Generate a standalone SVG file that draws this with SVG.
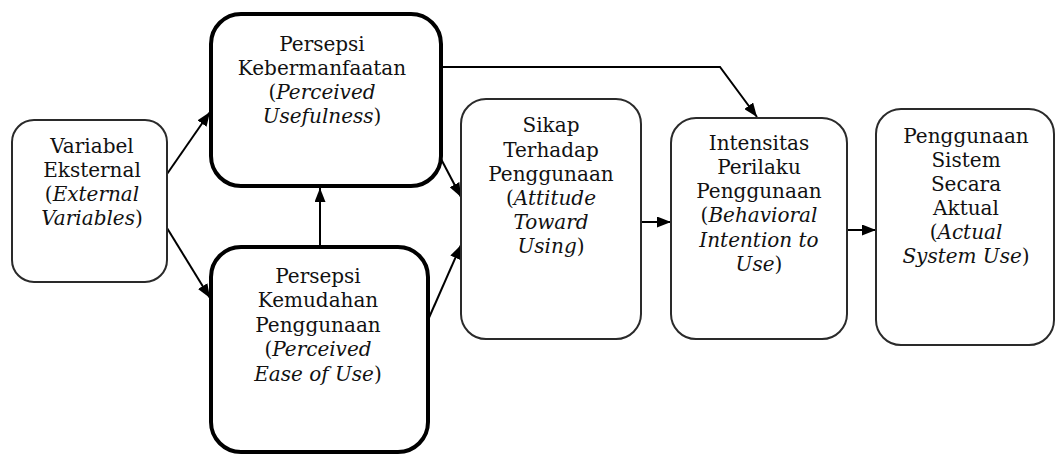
<svg xmlns="http://www.w3.org/2000/svg" width="1055" height="455" viewBox="0 0 1055 455">
<style>
.thin{fill:#fff;stroke:#2a2a2a;stroke-width:2}
.thick{fill:#fff;stroke:#000;stroke-width:4}
text{font-family:"DejaVu Serif","Liberation Serif",serif;font-size:20px;fill:#111;text-anchor:middle}
.i{font-style:italic}
.c{fill:none;stroke:#000;stroke-width:2}
</style>
<defs>
<marker id="ah" viewBox="0 0 14 11" refX="14" refY="5.5" markerWidth="14" markerHeight="11" markerUnits="userSpaceOnUse" orient="auto">
<path d="M0,0 L14,5.5 L0,11 Z" fill="#000"/>
</marker>
</defs>
<rect width="1055" height="455" fill="#fff"/>
<g id="connectors">
<line class="c" x1="167" y1="174" x2="210" y2="112" marker-end="url(#ah)"/>
<line class="c" x1="167" y1="228" x2="210" y2="298" marker-end="url(#ah)"/>
<line class="c" x1="320" y1="245" x2="320" y2="188" marker-end="url(#ah)"/>
<line class="c" x1="440" y1="157" x2="461" y2="197" marker-end="url(#ah)"/>
<line class="c" x1="428" y1="320" x2="461" y2="245" marker-end="url(#ah)"/>
<polyline class="c" points="442,67 720,67 757,117" marker-end="url(#ah)"/>
<line class="c" x1="641" y1="222" x2="671" y2="222" marker-end="url(#ah)"/>
<line class="c" x1="847" y1="230" x2="876" y2="230" marker-end="url(#ah)"/>
</g>
<g id="variabel-eksternal">
<rect class="thin" x="12" y="120" width="155" height="162" rx="22"/>
<text x="92" y="153">Variabel</text>
<text x="92" y="177">Eksternal</text>
<text x="92" y="201">(<tspan class="i">External</tspan></text>
<text x="92" y="225"><tspan class="i">Variables</tspan>)</text>
</g>
<g id="perceived-usefulness">
<rect class="thick" x="211" y="14" width="230" height="172" rx="30"/>
<text x="322" y="51">Persepsi</text>
<text x="322" y="75">Kebermanfaatan</text>
<text x="322" y="99">(<tspan class="i">Perceived</tspan></text>
<text x="322" y="123"><tspan class="i">Usefulness</tspan>)</text>
</g>
<g id="perceived-ease-of-use">
<rect class="thick" x="211" y="247" width="217" height="205" rx="30"/>
<text x="318" y="283">Persepsi</text>
<text x="318" y="307">Kemudahan</text>
<text x="318" y="332">Penggunaan</text>
<text x="318" y="356">(<tspan class="i">Perceived</tspan></text>
<text x="318" y="381"><tspan class="i">Ease of Use</tspan>)</text>
</g>
<g id="sikap">
<rect class="thin" x="461" y="99" width="180" height="240" rx="25"/>
<text x="551" y="132">Sikap</text>
<text x="551" y="157">Terhadap</text>
<text x="551" y="181">Penggunaan</text>
<text x="551" y="205">(<tspan class="i">Attitude</tspan></text>
<text x="551" y="229"><tspan class="i">Toward</tspan></text>
<text x="551" y="253"><tspan class="i">Using</tspan>)</text>
</g>
<g id="intensitas">
<rect class="thin" x="671" y="118" width="176" height="221" rx="25"/>
<text x="759" y="150">Intensitas</text>
<text x="759" y="174">Perilaku</text>
<text x="759" y="198">Penggunaan</text>
<text x="759" y="222">(<tspan class="i">Behavioral</tspan></text>
<text x="759" y="247"><tspan class="i">Intention to</tspan></text>
<text x="759" y="271"><tspan class="i">Use</tspan>)</text>
</g>
<g id="penggunaan-aktual">
<rect class="thin" x="876" y="109" width="178" height="236" rx="25"/>
<text x="966" y="143">Penggunaan</text>
<text x="966" y="167">Sistem</text>
<text x="966" y="191">Secara</text>
<text x="966" y="215">Aktual</text>
<text x="966" y="239">(<tspan class="i">Actual</tspan></text>
<text x="966" y="263"><tspan class="i">System Use</tspan>)</text>
</g>
</svg>
